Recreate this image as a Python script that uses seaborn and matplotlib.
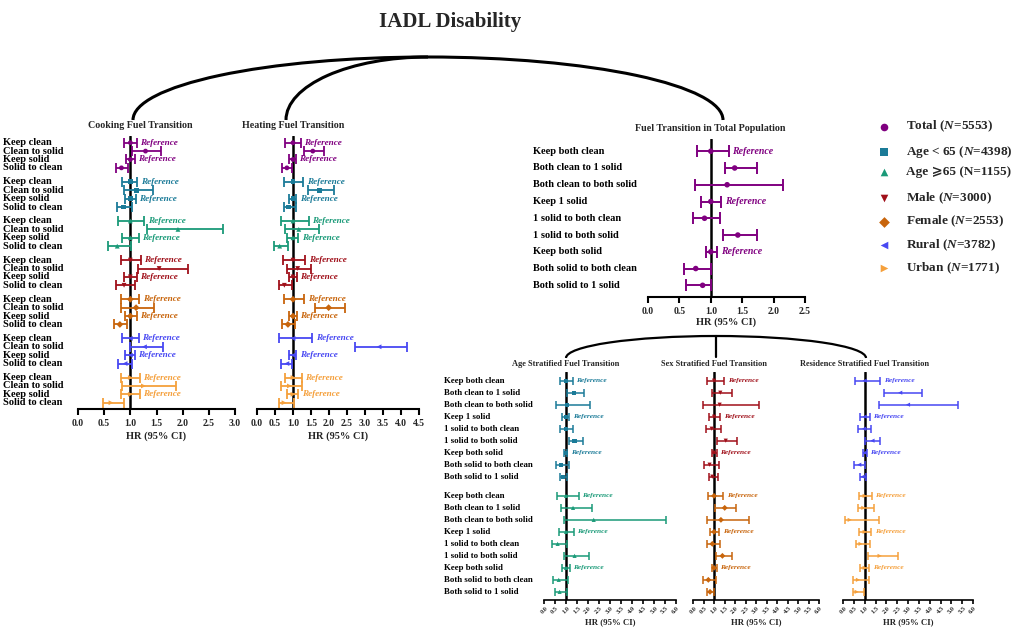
import numpy as np
import pandas as pd
import matplotlib
matplotlib.use("Agg")
import matplotlib.pyplot as plt
import matplotlib.transforms as mtrans
from matplotlib.patches import Arc
import seaborn as sns

# ---------------- data ----------------
groups = ["Total", "Age < 65", "Age ≥65", "Male", "Female", "Rural", "Urban"]
legend_labels = [r"Total ($\mathit{N}$=5553)", r"Age < 65 ($\mathit{N}$=4398)", "Age ⩾65 (N=1155)",
                 r"Male ($\mathit{N}$=3000)", r"Female ($\mathit{N}$=2553)",
                 r"Rural ($\mathit{N}$=3782)", r"Urban ($\mathit{N}$=1771)"]
colors = ["#800080", "#1b7b98", "#1a9a78", "#a0101a", "#c8650c", "#4848f2", "#f5a03c"]
marker_list = ["o", "s", "^", "v", "D", "<", ">"]

cook_labels = ["Keep clean", "Clean to solid", "Keep solid", "Solid to clean"]
cook_hr = [[1.00, 1.29, 1.00, 0.83], [1.00, 1.12, 1.00, 0.87], [1.00, 1.91, 1.00, 0.75],
           [1.00, 1.55, 1.00, 0.88], [1.00, 1.11, 1.00, 0.80], [1.00, 1.27, 1.00, 0.90],
           [1.00, 1.25, 1.00, 0.63]]
cook_lo = [[0.88, 1.04, 0.91, 0.73], [0.85, 0.87, 0.90, 0.75], [0.76, 1.31, 0.85, 0.58],
           [0.82, 1.14, 0.87, 0.72], [0.83, 0.83, 0.90, 0.68], [0.85, 1.00, 0.90, 0.77],
           [0.83, 0.85, 0.82, 0.48]]
cook_hi = [[1.12, 1.58, 1.08, 0.96], [1.13, 1.44, 1.10, 1.03], [1.27, 2.78, 1.16, 1.01],
           [1.20, 2.10, 1.12, 1.09], [1.17, 1.46, 1.12, 0.94], [1.16, 1.62, 1.09, 1.04],
           [1.18, 1.87, 1.18, 0.87]]

heat_hr = [[1.00, 1.55, 1.00, 0.83], [1.00, 1.73, 1.00, 0.88], [1.00, 1.16, 1.00, 0.63],
           [1.00, 1.13, 1.00, 0.76], [1.00, 1.99, 1.00, 0.86], [1.00, 3.39, 1.00, 0.83],
           [1.00, 0.90, 1.00, 0.75]]
heat_lo = [[0.78, 1.31, 0.90, 0.70], [0.75, 1.43, 0.89, 0.75], [0.66, 0.79, 0.84, 0.47],
           [0.73, 0.84, 0.89, 0.61], [0.75, 1.60, 0.90, 0.69], [0.62, 2.72, 0.89, 0.68],
           [0.77, 0.68, 0.83, 0.61]]
heat_hi = [[1.22, 1.85, 1.07, 0.97], [1.29, 2.13, 1.09, 1.07], [1.44, 1.71, 1.15, 0.87],
           [1.34, 1.49, 1.11, 0.98], [1.31, 2.45, 1.10, 1.06], [1.54, 4.17, 1.09, 0.98],
           [1.25, 1.25, 1.15, 1.03]]

both_labels = ["Keep both clean", "Both clean to 1 solid", "Both clean to both solid",
               "Keep 1 solid", "1 solid to both clean", "1 solid to both solid",
               "Keep both solid", "Both solid to both clean", "Both solid to 1 solid"]
total_hr = [1.00, 1.38, 1.26, 1.00, 0.90, 1.43, 1.00, 0.76, 0.87]
total_lo = [0.78, 1.22, 0.75, 0.85, 0.72, 1.19, 0.92, 0.58, 0.60]
total_hi = [1.29, 1.74, 2.15, 1.17, 1.15, 1.74, 1.10, 1.00, 1.00]

age_hr = [[1.00, 1.38, 1.06, 1.00, 1.00, 1.39, 1.00, 0.79, 0.85],
          [1.00, 1.32, 2.26, 1.00, 0.62, 1.39, 1.00, 0.67, 0.71]]
age_lo = [[0.74, 1.03, 0.55, 0.82, 0.74, 1.12, 0.89, 0.56, 0.74],
          [0.59, 0.77, 0.92, 0.70, 0.38, 0.92, 0.83, 0.41, 0.52]]
age_hi = [[1.32, 1.83, 2.11, 1.15, 1.33, 1.77, 1.06, 1.12, 1.03],
          [1.59, 2.18, 5.55, 1.36, 1.03, 2.03, 1.17, 1.11, 1.03]]

sex_hr = [[1.00, 1.30, 1.27, 1.00, 0.89, 1.56, 1.00, 0.79, 0.92],
          [1.00, 1.51, 1.33, 1.00, 0.92, 1.40, 1.00, 0.73, 0.81]]
sex_lo = [[0.68, 0.89, 0.49, 0.76, 0.62, 1.14, 0.89, 0.51, 0.76],
          [0.71, 1.06, 0.68, 0.83, 0.65, 1.10, 0.89, 0.48, 0.67]]
sex_hi = [[1.48, 1.87, 3.16, 1.30, 1.33, 2.10, 1.14, 1.24, 1.21],
          [1.44, 2.06, 2.65, 1.25, 1.30, 1.84, 1.14, 1.11, 0.98]]

res_hr = [[1.00, 2.64, 3.00, 1.00, 0.97, 1.36, 1.00, 0.75, 0.91],
          [1.00, 0.94, 0.31, 1.00, 0.81, 1.69, 1.00, 0.69, 0.63]]
res_lo = [[0.56, 1.88, 1.67, 0.80, 0.70, 1.03, 0.91, 0.50, 0.77],
          [0.73, 0.70, 0.08, 0.73, 0.59, 1.16, 0.80, 0.44, 0.47]]
res_hi = [[1.72, 3.63, 5.30, 1.23, 1.31, 1.69, 1.09, 1.02, 1.06],
          [1.34, 1.42, 1.66, 1.30, 1.25, 2.56, 1.22, 1.19, 0.97]]

palette = dict(zip(groups, colors))
markers = dict(zip(groups, marker_list))

# ---------------- style ----------------
sns.set_style("ticks")
plt.rcParams["font.family"] = ["Liberation Serif", "DejaVu Serif", "DejaVu Sans"]
plt.rcParams["font.weight"] = "bold"
plt.rcParams["mathtext.fontset"] = "custom"
plt.rcParams["mathtext.rm"] = "Liberation Serif:bold"
plt.rcParams["mathtext.it"] = "Liberation Serif:italic:bold"

W, H = 1021, 630
fig = plt.figure(figsize=(W / 100, H / 100), dpi=100)


def px_axes(x0, y0, x1, y1):
    return fig.add_axes([x0 / W, 1 - y1 / H, (x1 - x0) / W, (y1 - y0) / H])


def ftext(x, y, s, **kw):
    fig.text(x / W, 1 - y / H, s, **kw)


def make_df(names, labels, hr, lo, hi, gap):
    rows = []
    for g, name in enumerate(names):
        for i, lab in enumerate(labels):
            rows.append(dict(group=name, label=lab, y=g * (len(labels) + gap) + i,
                             hr=hr[g][i], lo=lo[g][i], hi=hi[g][i],
                             ref=lab.startswith("Keep")))
    return pd.DataFrame(rows)


def draw_panel(ax, df, xmax, msize, ref_fs, cap, lw, pads, tick_fs, rotate=False):
    for name, sub in df.groupby("group", sort=False):
        c = palette[name]
        ax.errorbar(sub.hr, sub.y, xerr=[sub.hr - sub.lo, sub.hi - sub.hr], fmt="none",
                    ecolor=c, elinewidth=lw, capsize=cap, capthick=lw, zorder=2)
        for _, r in sub[sub.ref].iterrows():
            ax.annotate("Reference", xy=(r.hi, r.y), xytext=(2.5, 0), textcoords="offset points",
                        ha="left", va="center", color=c, fontsize=ref_fs,
                        fontstyle="italic", fontweight="bold")
    sns.scatterplot(data=df, x="hr", y="y", hue="group", style="group", palette=palette,
                    markers=markers, s=msize, linewidth=0, legend=False, ax=ax, zorder=3)
    ax.axvline(1, color="black", lw=1.8, zorder=1)
    ax.set_xlim(0, xmax)
    ax.set_ylim(df.y.max() + pads[1], -pads[0])
    ax.set_xlabel("")
    ax.set_ylabel("")
    ax.set_yticks([])
    ticks = np.arange(0, xmax + 0.01, 0.5)
    ax.set_xticks(ticks)
    if rotate:
        ax.set_xticklabels([f"{t:.1f}" for t in ticks], fontsize=tick_fs, fontweight="bold",
                           rotation=45, ha="center")
        ax.tick_params(axis="x", length=3, width=1.2, pad=1, color="black")
    else:
        ax.set_xticklabels([f"{t:.1f}" for t in ticks], fontsize=tick_fs, fontweight="bold")
        ax.tick_params(axis="x", length=4.5, width=1.5, pad=3, color="black")
    sns.despine(ax=ax, left=True)
    ax.spines["bottom"].set_linewidth(1.5 if not rotate else 1.2)
    ax.spines["bottom"].set_color("black")
    ax.set_facecolor("none")
    ax.patch.set_alpha(0)


def row_labels(ax, df, x_px, fs):
    tr = mtrans.blended_transform_factory(fig.transFigure, ax.transData)
    for _, r in df.iterrows():
        ax.text(x_px / W, r.y, r.label, transform=tr, ha="left", va="center",
                fontsize=fs, fontweight="bold", color="black")


# ---------------- overlay (arcs, legend) ----------------
ov = fig.add_axes([0, 0, 1, 1])
ov.set_xlim(0, W)
ov.set_ylim(H, 0)
ov.axis("off")
ov.add_patch(Arc((428, 120), 590, 126, theta1=180, theta2=360, lw=2.2, color="black"))
ov.add_patch(Arc((428, 120), 284, 126, theta1=180, theta2=270, lw=2.2, color="black"))
ov.add_patch(Arc((716, 358), 300, 44, theta1=180, theta2=360, lw=1.6, color="black"))
ov.plot([716, 716], [336, 357], color="black", lw=1.6)

leg_y = [126.7, 151.7, 171.7, 198.3, 221.7, 245, 268.3]
for name, lab, yy in zip(groups, legend_labels, leg_y):
    ov.scatter([884], [yy], marker=markers[name], color=palette[name], s=30, linewidths=0)
    ov.text(906, yy, lab, ha="left", va="center", fontsize=9.5, fontweight="bold")

ftext(450, 22, "IADL Disability", ha="center", va="center", fontsize=15, fontweight="bold")

# ---------------- cooking / heating ----------------
cook_df = make_df(groups, cook_labels, cook_hr, cook_lo, cook_hi, 0.667)
heat_df = make_df(groups, cook_labels, heat_hr, heat_lo, heat_hi, 0.667)

ax_c = px_axes(78, 136, 235, 409)
draw_panel(ax_c, cook_df, 3.0, 12, 6.6, 3.5, 1.3, (0.8, 0.75), 7)
row_labels(ax_c, cook_df, 3, 7.5)
ax_h = px_axes(257, 136, 419, 409)
draw_panel(ax_h, heat_df, 4.5, 12, 6.6, 3.5, 1.3, (0.8, 0.75), 7)

ftext(140, 125, "Cooking Fuel Transition", ha="center", va="center", fontsize=7.2, fontweight="bold")
ftext(293, 125, "Heating Fuel Transition", ha="center", va="center", fontsize=7.2, fontweight="bold")
ftext(156.5, 436, "HR (95% CI)", ha="center", va="center", fontsize=7.5, fontweight="bold")
ftext(338, 436, "HR (95% CI)", ha="center", va="center", fontsize=7.5, fontweight="bold")

# ---------------- total population ----------------
total_df = make_df(["Total"], both_labels, [total_hr], [total_lo], [total_hi], 0)
ax_t = px_axes(648, 139, 805, 296.7)
draw_panel(ax_t, total_df, 2.5, 16, 7.1, 4, 1.4, (0.73, 0.68), 7)
row_labels(ax_t, total_df, 533, 7.5)
ftext(710, 129, "Fuel Transition in Total Population", ha="center", va="center",
      fontsize=7.2, fontweight="bold")
ftext(726.5, 322, "HR (95% CI)", ha="center", va="center", fontsize=7.5, fontweight="bold")

# ---------------- stratified ----------------
age_df = make_df(["Age < 65", "Age ≥65"], both_labels, age_hr, age_lo, age_hi, 0.6)
sex_df = make_df(["Male", "Female"], both_labels, sex_hr, sex_lo, sex_hi, 0.6)
res_df = make_df(["Rural", "Urban"], both_labels, res_hr, res_lo, res_hi, 0.6)

strat = [(age_df, 544, 676, 566, "Age Stratified Fuel Transition"),
         (sex_df, 693, 819, 714, "Sex Stratified Fuel Transition"),
         (res_df, 843, 973, 865, "Residence Stratified Fuel Transition")]
for k, (d, x0, x1, xt, title) in enumerate(strat):
    a = px_axes(x0, 371.7, x1, 600)
    draw_panel(a, d, 6.0, 9, 5.3, 3, 1.1, (0.75, 0.68), 4.6, rotate=True)
    if k == 0:
        row_labels(a, d, 444, 6.3)
    ftext(xt, 364, title, ha="center", va="center", fontsize=6, fontweight="bold")
    ftext((x0 + x1) / 2, 622, "HR (95% CI)", ha="center", va="center", fontsize=6.3,
          fontweight="bold")

fig.savefig("out.png", dpi=100)
